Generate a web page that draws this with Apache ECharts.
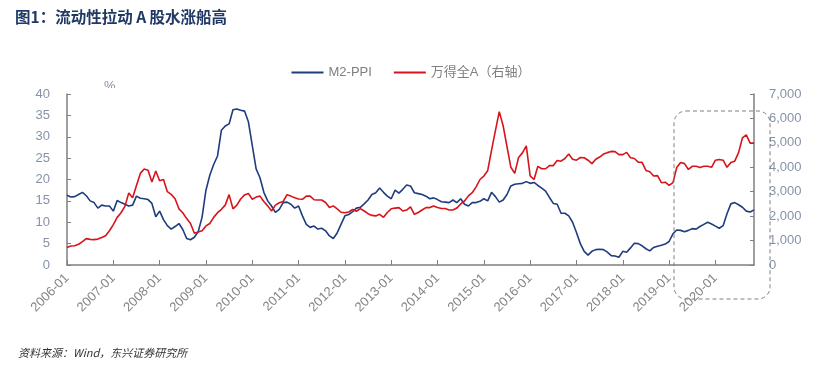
<!DOCTYPE html>
<html>
<head>
<meta charset="utf-8">
<script src="https://cdn.jsdelivr.net/npm/echarts@6/dist/echarts.min.js"></script>
<style>
  html, body { margin: 0; padding: 0; background: #fff; }
  #chart { width: 822px; height: 381px; }
</style>
</head>
<body>
<div id="chart"></div>
<script type="text/javascript">

// months 2006-01 .. 2020-11
var months = [];
for (var y = 2006; y <= 2020; y++) {
	for (var m = 1; m <= 12; m++) {
		if (y == 2020 && m > 11) break;
		months.push(y + '-' + (m < 10 ? '0' + m : m));
	}
}

// M2-PPI (%)
var m2ppi = [
	16.3, 15.9, 16.0, 16.5, 17.0, 16.2, 15.0, 14.6, 13.3, 14.0, 13.8, 13.8,
	12.6, 15.1, 14.6, 14.2, 13.8, 14.0, 16.1, 15.6, 15.5, 15.3, 14.4, 11.3,
	12.6, 10.6, 9.2, 8.4, 9.0, 9.7, 8.3, 6.2, 5.9, 6.5, 7.8, 11.2,
	17.5, 21.0, 23.5, 25.5, 31.5, 32.5, 33.0, 36.3, 36.5, 36.2, 36.0, 33.5,
	28.0, 22.5, 20.4, 17.0, 15.0, 13.8, 12.3, 13.0, 14.6, 14.7, 14.2, 13.3,
	13.8, 11.5, 9.5, 8.8, 9.1, 8.4, 8.6, 8.0, 6.8, 6.2, 7.5, 9.5,
	11.5, 11.8, 12.5, 13.3, 13.5, 14.3, 15.2, 16.5, 16.9, 18.0, 17.0, 16.1,
	15.5, 17.5, 16.8, 17.7, 18.7, 18.5, 16.9, 16.7, 16.5, 16.1, 15.5, 15.7,
	15.3, 14.8, 14.7, 14.6, 15.2, 14.6, 15.5, 14.2, 13.8, 14.6, 14.6, 14.9,
	15.5, 15.0, 17.0, 16.0, 14.7, 15.2, 16.5, 18.5, 18.9, 19.0, 19.1, 19.5,
	19.1, 19.3, 18.6, 18.0, 17.3, 15.8, 14.4, 14.2, 12.1, 12.1, 11.5, 10.0,
	7.6, 5.0, 3.2, 2.3, 3.2, 3.6, 3.7, 3.6, 3.0, 2.2, 2.1, 1.8,
	3.2, 3.0, 4.0, 5.1, 5.0, 4.5, 3.8, 3.3, 4.1, 4.4, 4.6, 4.9,
	5.5, 7.3, 8.2, 8.1, 7.8, 8.1, 8.5, 8.4, 9.0, 9.5, 10.0, 9.6,
	9.1, 8.6, 9.2, 12.0, 14.3, 14.6, 14.1, 13.5, 12.6, 12.4, 12.9
];

// 万得全A (right axis)
var windA = [
	720, 780, 790, 850, 960, 1080, 1050, 1040, 1060, 1125, 1200, 1400,
	1650, 1950, 2140, 2400, 2950, 2750, 3250, 3750, 3930, 3880, 3400, 3850,
	3450, 3500, 3000, 2890, 2710, 2300, 2140, 1900, 1700, 1300, 1350, 1400,
	1600, 1700, 1950, 2140, 2280, 2450, 2880, 2300, 2450, 2700, 2870, 2930,
	2690, 2780, 2820, 2600, 2420, 2210, 2450, 2550, 2600, 2880, 2820, 2750,
	2700, 2690, 2820, 2820, 2670, 2660, 2660, 2560, 2350, 2420, 2300, 2160,
	2140, 2170, 2270, 2200, 2310, 2210, 2100, 2030, 2010, 2075, 1950, 2150,
	2300, 2330, 2350, 2210, 2250, 2380, 2075, 2150, 2250, 2350, 2350, 2415,
	2350, 2310, 2310, 2250, 2250, 2330, 2500, 2620, 2830, 2960, 3200, 3500,
	3640, 3860, 4700, 5500, 6280, 5700, 4850, 4000, 3750, 4400, 4590, 4880,
	3650, 3500, 4040, 3940, 3940, 4070, 4070, 4280, 4250, 4360, 4540, 4330,
	4290, 4400, 4390, 4290, 4150, 4330, 4420, 4540, 4600, 4650, 4640, 4520,
	4520, 4610, 4390, 4360, 4210, 4200, 3870, 3820, 3640, 3660, 3370, 3390,
	3260, 3370, 4000, 4200, 4150, 3910, 4040, 4040, 3990, 4040, 4040, 4000,
	4290, 4320, 4290, 4000, 4200, 4250, 4600, 5200, 5330, 4990, 4990
];

var axisGrey = '#7f7f7f';
var labelGrey = '#8593a8';
var fontFam = '"Liberation Sans", "Noto Sans CJK SC", sans-serif';

var chart = echarts.init(document.getElementById('chart'));

var option = {
	backgroundColor: '#fff',
	animation: false,
	textStyle: { fontFamily: fontFam },
	legend: {
		top: 61,
		left: 'center',
		icon: 'rect',
		itemWidth: 32,
		itemHeight: 2,
		itemGap: 22,
		textStyle: { color: '#7f7f7f', fontSize: 13 },
		data: ['M2-PPI', '万得全A（右轴）']
	},
	grid: { left: 67, right: 68, top: 94, bottom: 116 },
	xAxis: {
		type: 'category',
		data: months,
		boundaryGap: false,
		axisLine: { lineStyle: { color: axisGrey, width: 1.5 } },
		axisTick: { inside: true, length: 5, interval: 11, lineStyle: { color: axisGrey } },
		axisLabel: { interval: 11, rotate: 45, color: '#858585', fontSize: 13, margin: 11 }
	},
	yAxis: [{
		type: 'value',
		min: 0, max: 40, interval: 5,
		splitLine: { show: false },
		axisLine: { show: true, lineStyle: { color: axisGrey, width: 1.5 } },
		axisTick: { show: true, inside: true, length: 4, lineStyle: { color: axisGrey } },
		axisLabel: { color: labelGrey, fontSize: 13, margin: 17 }
	}, {
		type: 'value',
		position: 'right',
		min: 0, max: 7000, interval: 1000,
		splitLine: { show: false },
		axisLine: { show: true, lineStyle: { color: axisGrey, width: 1.5 } },
		axisTick: { show: true, inside: true, length: 4, lineStyle: { color: axisGrey } },
		axisLabel: {
			color: labelGrey, fontSize: 13, margin: 15,
			formatter: function (v) { return v.toLocaleString('en-US'); }
		}
	}],
	series: [{
		name: 'M2-PPI',
		type: 'line',
		yAxisIndex: 0,
		data: m2ppi,
		symbol: 'none',
		lineStyle: { color: '#1f3c7c', width: 1.6 },
		itemStyle: { color: '#1f3c7c' }
	}, {
		name: '万得全A（右轴）',
		type: 'line',
		yAxisIndex: 1,
		data: windA,
		symbol: 'none',
		lineStyle: { color: '#d7141a', width: 1.6 },
		itemStyle: { color: '#d7141a' }
	}],
	graphic: [{
		type: 'text',
		left: 15, top: 9,
		style: {
			text: '图1：流动性拉动 A 股水涨船高',
			font: 'bold 15.5px "Noto Sans CJK SC", sans-serif',
			fill: '#1f3864'
		}
	}, {
		type: 'text',
		left: 104, top: 80,
		z: 1,
		style: { text: '%', font: '13px "Liberation Sans", sans-serif', fill: labelGrey }
	}, {
		type: 'rect',
		z: 2,
		shape: { x: 100, y: 88, width: 18, height: 5 },
		style: { fill: '#fff' }
	}, {
		type: 'rect',
		z: 10,
		shape: { x: 674, y: 111, width: 96, height: 188, r: 12 },
		style: { fill: 'none', stroke: '#808080', lineWidth: 1, lineDash: [4, 3] }
	}, {
		type: 'text',
		left: 18, top: 347,
		style: {
			text: '资料来源：Wind，东兴证券研究所',
			font: 'italic 11px "Noto Sans CJK SC", sans-serif',
			fill: '#333'
		}
	}]
};

chart.setOption(option);

</script>
</body>
</html>
